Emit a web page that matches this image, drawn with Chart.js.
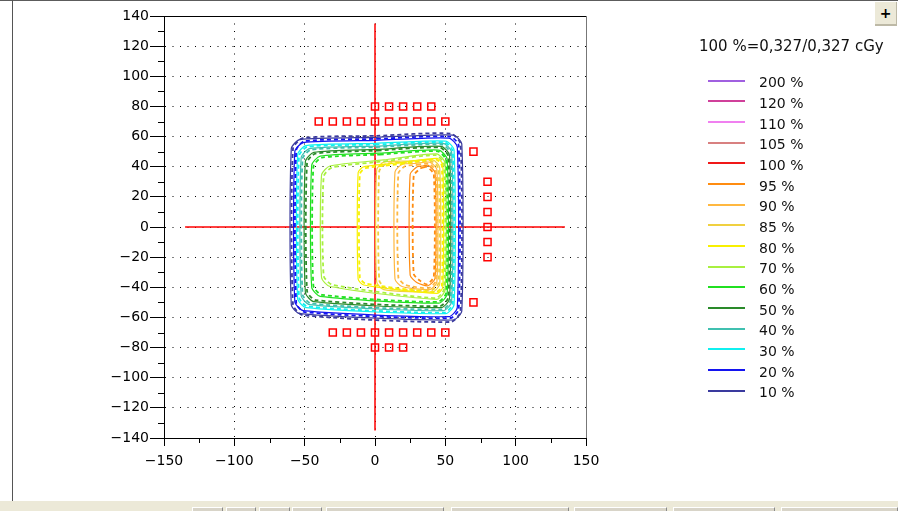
<!DOCTYPE html>
<html>
<head>
<meta charset="utf-8">
<script src="https://cdn.jsdelivr.net/npm/chart.js@4.4.0/dist/chart.umd.min.js"></script>
<style>
  html, body { margin: 0; padding: 0; background: #fff; width: 898px; height: 511px; overflow: hidden; }
  #wrap { position: relative; width: 898px; height: 511px; font-family: "DejaVu Sans", sans-serif; color: #111; }
  #plot { position: absolute; left: 0; top: 0; }
  .topline { position: absolute; left: 0; top: 0; width: 898px; height: 1px; background: #5c5c5c; }
  .leftline { position: absolute; left: 12px; top: 0; width: 1px; height: 501px; background: #555; }
  .strip { position: absolute; left: 0; top: 501px; width: 898px; height: 10px; background: #ECE9D8; }
  .btn { position: absolute; top: 507px; height: 4px; box-sizing: border-box; background: #D8D4C8;
         border-top: 1px solid #fff; border-left: 1px solid #fff; border-right: 1px solid #8a8a8a; }
  .plus { position: absolute; left: 875px; top: 2px; width: 22px; height: 24px; box-sizing: border-box;
          background: #ECE9D8; border-bottom: 2px solid #BDB9A6; border-right: 1px solid #BDB9A6;
          font: bold 14px "DejaVu Sans", sans-serif; text-align: center; line-height: 22px; color: #000; }
  .ltitle { position: absolute; left: 699px; top: 37px; font-size: 15px; line-height: 18px; white-space: nowrap; }
  .lline { position: absolute; left: 708px; width: 37px; height: 2px; }
  .ltext { position: absolute; left: 759px; font-size: 14px; line-height: 16px; white-space: nowrap; }
</style>
</head>
<body>
<div id="wrap">
  <canvas id="plot" width="898" height="511"></canvas>
  <div class="topline"></div>
  <div class="leftline"></div>
  <div class="strip"></div>
  <div class="btn" style="left:192px;width:31px"></div>
  <div class="btn" style="left:226px;width:30px"></div>
  <div class="btn" style="left:259px;width:31px"></div>
  <div class="btn" style="left:292px;width:30px"></div>
  <div class="btn" style="left:326px;width:118px"></div>
  <div class="btn" style="left:451px;width:118px"></div>
  <div class="btn" style="left:574px;width:93px"></div>
  <div class="btn" style="left:673px;width:102px"></div>
  <div class="btn" style="left:781px;width:117px"></div>
  <div class="plus">+</div>
  <div class="ltitle">100 %=0,327/0,327 cGy</div>
  <div id="legend"></div>
</div>
<script>
// axes
const xTickValues = [-150, -100, -50, 0, 50, 100, 150];
const xTickLabels = ['−150', '−100', '−50', '0', '50', '100', '150'];
const xMinor = [-125, -75, -25, 25, 75, 125];
const yTickValues = [-140, -120, -100, -80, -60, -40, -20, 0, 20, 40, 60, 80, 100, 120, 140];
const yTickLabels = ['−140', '−120', '−100', '−80', '−60', '−40', '−20', '0', '20', '40', '60', '80', '100', '120', '140'];
const yMinor = [-130, -110, -90, -70, -50, -30, -10, 10, 30, 50, 70, 90, 110, 130];

// legend
const legendLabels = ['200 %', '120 %', '110 %', '105 %', '100 %', '95 %', '90 %', '85 %', '80 %', '70 %', '60 %', '50 %', '40 %', '30 %', '20 %', '10 %'];
const legendColors = ['#A060E0', '#D0409A', '#F080F0', '#D88080', '#F01818', '#FF8C10', '#FFB840', '#F0D040', '#F8F000', '#A8F040', '#20E020', '#2A8A2A', '#40C0B0', '#10F0F0', '#1414F0', '#3A3A9E'];

// crosshair
const crossHX = [-135, 135];
const crossHY = [0, 0];
const crossVX = [0, 0];
const crossVY = [135, -135];

// red square markers
const markerX = [0, 10, 20, 30, 40, -40, -30, -20, -10, 0, 10, 20, 30, 40, 50, 70, 80, 80, 80, 80, 80, 80, 70, -30, -20, -10, 0, 10, 20, 30, 40, 50, 0, 10, 20];
const markerY = [80, 80, 80, 80, 80, 70, 70, 70, 70, 70, 70, 70, 70, 70, 70, 50, 30, 20, 10, 0, -10, -20, -50, -70, -70, -70, -70, -70, -70, -70, -70, -70, -80, -80, -80];

// isodose contours, solid and dashed (x / y in mm)
const iso10X = [1, 55.7, 61.7, 61.7, 55.7, -53.5, -59.5, -59.5, -53.5, 1];
const iso10Y = [59.5, 61, 55, -55.7, -61.7, -57.5, -51.5, 52, 58, 59.5];
const iso10dX = [1, 53.8, 60.8, 60.8, 53.8, -51.3, -58.3, -58.3, -51.3, 1];
const iso10dY = [60.5, 62, 55, -56, -63, -58.5, -51.5, 52, 59, 60.5];
const iso20X = [1, 52.5, 58.5, 58.5, 52.5, -51, -57, -57, -51, 1];
const iso20Y = [57.5, 59, 53, -53.5, -59.5, -55.5, -49.5, 50, 56, 57.5];
const iso20dX = [1.5, 53.5, 59.5, 59.5, 53.5, -50, -56, -56, -50, 1.5];
const iso20dY = [58.5, 60, 54, -54.5, -60.5, -56.5, -50.5, 51, 57, 58.5];
const iso30X = [0.5, 50.2, 56.2, 56.2, 50.2, -49, -55, -55, -49, 0.5];
const iso30Y = [55.5, 57, 51, -51.5, -57.5, -53.5, -47.5, 48, 54, 55.5];
const iso30dX = [0.5, 49.3, 55.3, 55.3, 49.3, -48, -54, -54, -48, 0.5];
const iso30dY = [54.7, 56.2, 50.2, -50.8, -56.8, -52.7, -46.7, 47.2, 53.2, 54.7];
const iso40X = [1, 48.5, 54.5, 54.5, 48.5, -46.5, -52.5, -52.5, -46.5, 1];
const iso40Y = [53.7, 55.5, 49.5, -49.5, -55.5, -51.5, -45.5, 46, 52, 53.7];
const iso40dX = [1, 47.7, 53.7, 53.7, 47.7, -45.5, -51.5, -51.5, -45.5, 1];
const iso40dY = [53, 54.7, 48.7, -48.7, -54.7, -50.7, -44.7, 45.2, 51.2, 53];
const iso50X = [1.5, 47, 53, 53, 47, -43.5, -49.5, -49.5, -43.5, 1.5];
const iso50Y = [51.5, 53.5, 47.5, -47.5, -53.5, -49.5, -43.5, 43.5, 49.5, 51.5];
const iso50dX = [2, 46.2, 52.2, 52.2, 46.2, -42.3, -48.3, -48.3, -42.3, 2];
const iso50dY = [50.7, 52.7, 46.7, -46.5, -52.5, -48.5, -42.5, 42.7, 48.7, 50.7];
const iso60X = [3, 45.3, 51.3, 51.3, 45.3, -39, -45, -45, -39, 3];
const iso60Y = [49, 51, 45, -44.5, -50.5, -46, -40, 41, 47, 49];
const iso60dX = [3.5, 44.6, 50.6, 50.6, 44.6, -37.8, -43.8, -43.8, -37.8, 3.5];
const iso60dY = [48.1, 50.2, 44.2, -43.7, -49.7, -45, -39, 40, 46, 48.1];
const iso70X = [6, 43.8, 49.8, 49.8, 43.8, -32, -38, -38, -32, 6];
const iso70Y = [44.5, 48.5, 42.5, -42, -48, -39.5, -33.5, 34.5, 40.5, 44.5];
const iso70dX = [6.5, 43.1, 49.1, 49.1, 43.1, -30.5, -36.5, -36.5, -30.5, 6.5];
const iso70dY = [43.6, 47.7, 41.7, -41.2, -47.2, -38.3, -32.3, 33.5, 39.5, 43.6];
const iso80X = [18, 44.2, 48.2, 48.2, 44.2, -8, -12, -12, -8, 18];
const iso80Y = [42.7, 45.5, 41.5, -40, -44, -38.5, -34.5, 36, 40, 42.7];
const iso80dX = [18.5, 43.5, 47.5, 47.5, 43.5, -6.8, -10.8, -10.8, -6.8, 18.5];
const iso80dY = [41.8, 44.7, 40.7, -39.2, -43.2, -37.5, -33.5, 35, 39, 41.8];
const iso85X = [23.5, 41, 46, 46, 41, 6.2, 1.2, 1.2, 6.2, 23.5];
const iso85Y = [43.7, 44.5, 39.5, -38, -43, -41.5, -36.5, 38, 43, 43.7];
const iso85dX = [24, 40.2, 45.2, 45.2, 40.2, 8, 3, 3, 8, 24];
const iso85dY = [42.8, 43.6, 38.6, -37, -42, -40.4, -35.4, 37, 42, 42.8];
const iso90X = [29, 39, 44, 44, 39, 19.2, 14.2, 14.2, 19.2, 29];
const iso90Y = [42.2, 43, 38, -36.5, -41.5, -39.5, -34.5, 36.5, 41.5, 42.2];
const iso90dX = [30, 38.2, 43.2, 43.2, 38.2, 21.6, 16.6, 16.6, 21.6, 30];
const iso90dY = [41.2, 42, 37, -35.5, -40.5, -38.4, -33.4, 35.5, 40.5, 41.2];
const iso95X = [34, 37.7, 42.7, 42.7, 37.7, 30, 25, 25, 30, 34];
const iso95Y = [40.5, 41, 36, -34, -39, -37, -32, 35, 40, 40.5];
const iso95dX = [34.5, 36.8, 41.8, 41.8, 36.8, 32.5, 27.5, 27.5, 32.5, 34.5];
const iso95dY = [39.5, 40, 35, -33, -38, -36, -31, 34, 39, 39.5];

const contours = [
  ['10 %', iso10X, iso10Y, false], ['10 %', iso10dX, iso10dY, true],
  ['20 %', iso20X, iso20Y, false], ['20 %', iso20dX, iso20dY, true],
  ['30 %', iso30X, iso30Y, false], ['30 %', iso30dX, iso30dY, true],
  ['40 %', iso40X, iso40Y, false], ['40 %', iso40dX, iso40dY, true],
  ['50 %', iso50X, iso50Y, false], ['50 %', iso50dX, iso50dY, true],
  ['60 %', iso60X, iso60Y, false], ['60 %', iso60dX, iso60dY, true],
  ['70 %', iso70X, iso70Y, false], ['70 %', iso70dX, iso70dY, true],
  ['80 %', iso80X, iso80Y, false], ['80 %', iso80dX, iso80dY, true],
  ['85 %', iso85X, iso85Y, false], ['85 %', iso85dX, iso85dY, true],
  ['90 %', iso90X, iso90Y, false], ['90 %', iso90dX, iso90dY, true],
  ['95 %', iso95X, iso95Y, false], ['95 %', iso95dX, iso95dY, true],
];

const zip = (xs, ys) => xs.map((x, i) => ({ x, y: ys[i] }));
const colorOf = (label) => legendColors[legendLabels.indexOf(label)];

function buildLegend() {
  const box = document.getElementById('legend');
  box.innerHTML = legendLabels.map((label, i) => {
    const cy = 80.7 + i * 20.67;
    return `<div class="lline" style="top:${(cy - 1).toFixed(1)}px;background:${legendColors[i]}"></div>` +
      `<div class="ltext" style="top:${(cy - 6.5).toFixed(1)}px">${label}</div>`;
  }).join('');
}

const datasets = contours.map(([label, xs, ys, dashed]) => ({
  label,
  data: zip(xs, ys),
  showLine: true,
  borderColor: colorOf(label),
  borderWidth: dashed ? 1.8 : 1.2,
  borderDash: dashed ? [4, 3] : [],
  pointRadius: 0,
  tension: 0.22,
}));

datasets.push(
  { label: 'h', data: zip(crossHX, crossHY), showLine: true, borderColor: '#FF0000', borderWidth: 1.5, pointRadius: 0 },
  { label: 'v', data: zip(crossVX, crossVY), showLine: true, borderColor: '#FF0000', borderWidth: 1.5, pointRadius: 0 },
  {
    label: 'pts',
    data: zip(markerX, markerY),
    showLine: false,
    pointStyle: 'rect',
    pointRadius: 5,
    borderColor: '#FF0000',
    backgroundColor: 'rgba(0,0,0,0)',
    pointBorderWidth: 1.5,
  },
);

// top/right frame and the short minor ticks
const framePlugin = {
  id: 'frame',
  afterDraw(chart) {
    const { ctx, chartArea: a, scales: { x, y } } = chart;
    ctx.save();
    ctx.lineWidth = 1;
    ctx.strokeStyle = '#000';
    ctx.beginPath();
    ctx.moveTo(a.left, a.top + 0.5);
    ctx.lineTo(a.right + 0.5, a.top + 0.5);
    ctx.stroke();
    ctx.strokeStyle = '#777';
    ctx.beginPath();
    ctx.moveTo(a.right + 0.5, a.top);
    ctx.lineTo(a.right + 0.5, a.bottom);
    ctx.stroke();
    ctx.strokeStyle = '#000';
    ctx.beginPath();
    xMinor.forEach((v) => {
      const px = Math.round(x.getPixelForValue(v)) + 0.5;
      ctx.moveTo(px, a.bottom);
      ctx.lineTo(px, a.bottom + 5);
    });
    yMinor.forEach((v) => {
      const py = Math.round(y.getPixelForValue(v)) + 0.5;
      ctx.moveTo(a.left - 6, py);
      ctx.lineTo(a.left, py);
    });
    ctx.stroke();
    ctx.restore();
  },
};

const tickFont = { family: 'DejaVu Sans', size: 14 };

buildLegend();
new Chart(document.getElementById('plot').getContext('2d'), {
  type: 'scatter',
  data: { datasets },
  options: {
    responsive: false,
    animation: false,
    devicePixelRatio: 1,
    layout: { padding: { left: 0, top: 16, right: 312, bottom: 0 } },
    plugins: { legend: { display: false }, tooltip: { enabled: false } },
    scales: {
      x: {
        type: 'linear',
        min: -150,
        max: 150,
        afterBuildTicks: (s) => { s.ticks = xTickValues.map((value) => ({ value })); },
        afterFit: (s) => { s.height = 73; s.paddingLeft = 0; s.paddingRight = 0; },
        ticks: {
          autoSkip: false,
          maxRotation: 0,
          padding: 7,
          color: '#000',
          font: tickFont,
          callback: (v, i) => xTickLabels[i],
        },
        grid: { color: '#000', lineWidth: 1, tickLength: 8, tickColor: '#000' },
        border: { display: true, color: '#000', width: 1, dash: [1, 6.5] },
      },
      y: {
        type: 'linear',
        min: -140,
        max: 140,
        afterBuildTicks: (s) => { s.ticks = yTickValues.map((value) => ({ value })); },
        afterFit: (s) => { s.width = 164; s.paddingTop = 0; s.paddingBottom = 0; },
        ticks: {
          autoSkip: false,
          padding: 1,
          color: '#000',
          font: tickFont,
          callback: (v, i) => yTickLabels[i],
        },
        grid: { color: '#000', lineWidth: 1, tickLength: 14, tickColor: '#000' },
        border: { display: true, color: '#000', width: 1, dash: [1, 6.5] },
      },
    },
  },
  plugins: [framePlugin],
});
</script>
</body>
</html>
